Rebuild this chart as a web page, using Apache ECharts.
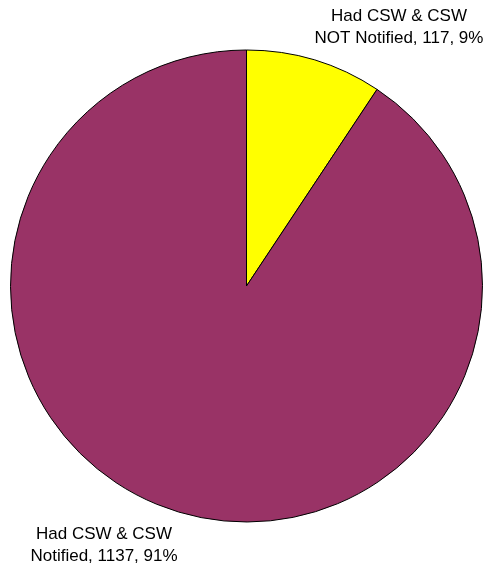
<!DOCTYPE html>
<html>
<head>
<meta charset="utf-8">
<script src="https://cdn.jsdelivr.net/npm/echarts@6/dist/echarts.min.js"></script>
<style>
  html, body { margin: 0; padding: 0; background: #fff; }
  #chart { width: 490px; height: 564px; }
</style>
</head>
<body>
<div id="chart"></div>
<script>
const categories = ['Had CSW & CSW\nNOT Notified', 'Had CSW & CSW\nNotified']
const counts = [117, 1137]
const percents = ['9%', '91%']
const sliceColors = ['#FFFF00', '#993366']

// where each label sits (centre of text block)
const labelSpots = [
  { x: 399, y: 27 },
  { x: 104, y: 545 }
]

const chart = echarts.init(document.getElementById('chart'))

const option = {
  animation: false,
  series: [{
    type: 'pie',
    center: [246.5, 286],
    radius: [0, 236],
    startAngle: 90,
    clockwise: true,
    avoidLabelOverlap: false,
    itemStyle: { borderColor: '#000', borderWidth: 1 },
    label: {
      show: true,
      position: 'outside',
      color: '#000',
      fontFamily: 'Liberation Sans, Arial, sans-serif',
      fontSize: 17,
      lineHeight: 22,
      align: 'center',
      formatter: p => `${p.name}, ${p.value}, ${percents[p.dataIndex]}`
    },
    labelLine: { show: false },
    labelLayout: p => ({
      x: labelSpots[p.dataIndex].x,
      y: labelSpots[p.dataIndex].y,
      align: 'center',
      verticalAlign: 'middle'
    }),
    data: categories.map((c, i) => ({
      name: c,
      value: counts[i],
      itemStyle: { color: sliceColors[i] }
    }))
  }]
}

chart.setOption(option)
</script>
</body>
</html>
